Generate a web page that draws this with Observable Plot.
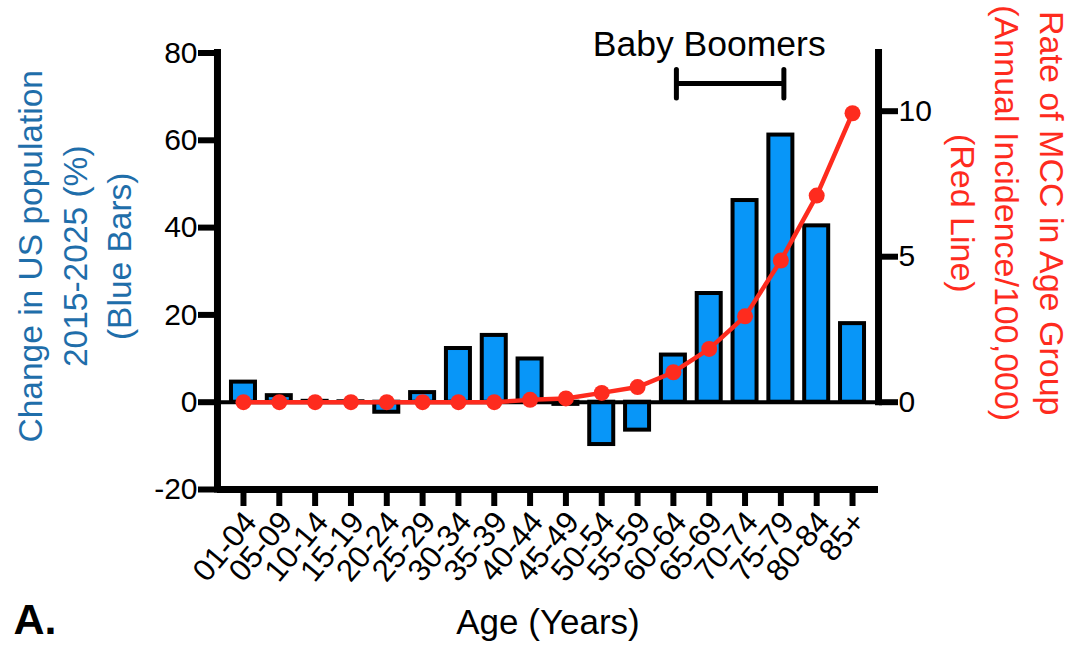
<!DOCTYPE html>
<html>
<head>
<meta charset="utf-8">
<script src="https://cdn.jsdelivr.net/npm/d3@7"></script>
<script src="https://cdn.jsdelivr.net/npm/@observablehq/plot@0.6"></script>
<style>
  html, body { margin: 0; padding: 0; background: #fff; }
  #chart svg { display: block; }
</style>
</head>
<body>
<div id="chart"></div>
<script>
const ages = ["01-04","05-09","10-14","15-19","20-24","25-29","30-34","35-39","40-44","45-49","50-54","55-59","60-64","65-69","70-74","75-79","80-84","85+"];
const popChange = [4.6, 1.5, 0.2, 0.1, -2.3, 2.2, 12.3, 15.3, 9.9, -0.5, -9.7, -6.4, 10.8, 24.9, 46.2, 61.2, 40.4, 18.0];
const mccRate = [0, 0, 0, 0, 0, 0, 0, 0, 0.08, 0.13, 0.32, 0.52, 1.03, 1.83, 2.95, 4.87, 7.1, 9.93];
const leftTicks = [-20, 0, 20, 40, 60, 80];
const rightTicks = [0, 5, 10];
const rightMax = 12;
const leftDomain = [-20, 80];
const boomerSpan = ["60-64", "75-79"];
const boomerCenter = "65-69";
const boomerLabel = "Baby Boomers";
const leftTitle = "Change in US population\n2015-2025 (%)\n(Blue Bars)";
const rightTitle = "Rate of MCC in Age Group\n(Annual Incidence/100,000)\n(Red Line)";
const xTitle = "Age (Years)";
const panelLabel = "A.";

const k = leftDomain[1] / rightMax; // right-axis units -> left-axis units
const data = ages.map((a, i) => ({age: a, pop: popChange[i], mcc: mccRate[i]}));

const BLUE_FILL = "#0896f8";
const BLUE_TEXT = "#1f6eaa";
const RED = "#fe2b1e";

const chart = Plot.plot({
  width: 1078,
  height: 648,
  marginLeft: 217,
  marginRight: 200,
  marginTop: 52.5,
  marginBottom: 159,
  style: {fontFamily: "'Liberation Sans', Arial, Helvetica, sans-serif", fontSize: "30px", background: "#fff", color: "#000"},
  x: {type: "band", domain: ages, paddingInner: 0.33, paddingOuter: 0.39, round: false},
  y: {domain: leftDomain},
  marks: [
    Plot.barY(data, {x: "age", y: "pop", fill: BLUE_FILL, stroke: "black", strokeWidth: 4}),
    Plot.ruleY([0], {stroke: "black", strokeWidth: 4}),
    Plot.line(data, {x: "age", y: d => d.mcc * k, stroke: RED, strokeWidth: 4.5}),
    Plot.dot(data, {x: "age", y: d => d.mcc * k, r: 8, fill: RED}),
    // axis lines
    Plot.ruleX([ages[0]], {y1: leftDomain[0], y2: leftDomain[1], dx: -26, stroke: "black", strokeWidth: 7, strokeLinecap: "square"}),
    Plot.ruleX([ages[ages.length - 1]], {y1: 0, y2: leftDomain[1], dx: 26, stroke: "black", strokeWidth: 7, strokeLinecap: "square"}),
    Plot.ruleY([leftDomain[0]], {stroke: "black", strokeWidth: 7}),
    // axes
    Plot.axisY(leftTicks, {anchor: "left", tickSize: 19, tickPadding: 1, strokeWidth: 6, fontSize: 30, label: null, tickFormat: d => String(d)}),
    Plot.axisY(rightTicks.map(v => v * k), {anchor: "right", tickSize: 19, tickPadding: 1, strokeWidth: 6, fontSize: 30, label: null, tickFormat: d => String(Math.round(d / k))}),
    Plot.axisX({anchor: "bottom", tickSize: 17, strokeWidth: 6, label: null, tickFormat: () => ""}),
    Plot.axisX({anchor: "bottom", tickSize: 0, tickPadding: 27, tickRotate: -50, dx: 7, fontSize: 31, label: null}),
    // Baby boomers bracket
    Plot.link([boomerSpan], {x1: d => d[0], x2: d => d[1], y1: 73, y2: 73, stroke: "black", strokeWidth: 5, dx: 3}),
    Plot.ruleX(boomerSpan, {y1: 69.6, y2: 76.1, stroke: "black", strokeWidth: 5, strokeLinecap: "round", dx: 3}),
    Plot.text([boomerLabel], {x: () => boomerCenter, y: 79.4, text: d => d, fontSize: 35.5, textAnchor: "middle", lineAnchor: "bottom", fill: "black"}),
    // titles
    Plot.text([leftTitle], {frameAnchor: "left", text: d => d, rotate: -90, dx: -145, dy: -15, fontSize: 33.5, lineHeight: 1.33, fill: BLUE_TEXT, textAnchor: "middle", lineAnchor: "middle"}),
    Plot.text([rightTitle], {frameAnchor: "right", text: d => d, rotate: 90, dx: 131, dy: -58, fontSize: 34, lineHeight: 1.3, fill: RED, textAnchor: "middle", lineAnchor: "middle"}),
    Plot.text([xTitle], {frameAnchor: "bottom", text: d => d, dy: 144, fontSize: 35, textAnchor: "middle", lineAnchor: "bottom", fill: "black"}),
    Plot.text([panelLabel], {frameAnchor: "bottom-left", text: d => d, dx: -204, dy: 144, fontSize: 43, fontWeight: "bold", textAnchor: "start", lineAnchor: "bottom", fill: "black"})
  ]
});
document.getElementById("chart").appendChild(chart);
</script>
</body>
</html>
